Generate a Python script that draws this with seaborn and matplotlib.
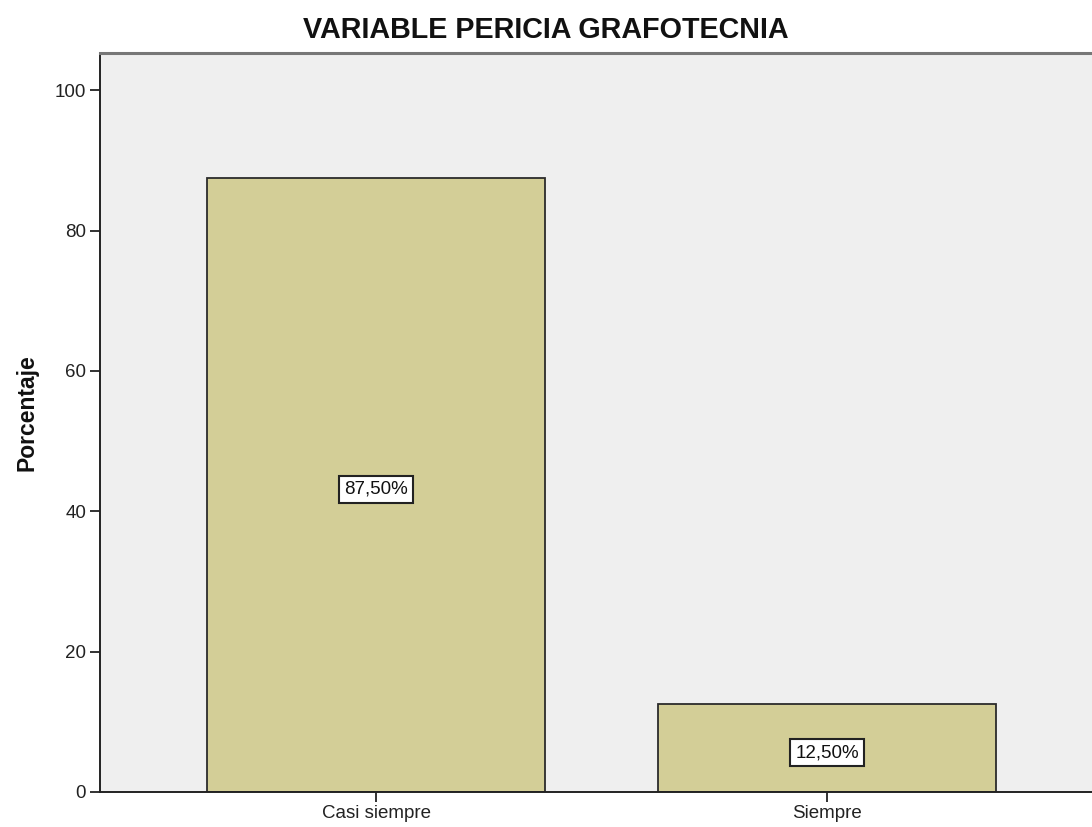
import matplotlib
matplotlib.use("Agg")
import seaborn as sns
from matplotlib import pyplot as plt

categories = ["Casi siempre", "Siempre"]
percentages = [87.5, 12.5]
value_labels = ["87,50%", "12,50%"]
y_ticks = [0, 20, 40, 60, 80, 100]

sns.set_style("white")
plt.rcParams["font.family"] = ["Liberation Sans", "DejaVu Sans"]

fig = plt.figure(figsize=(10.92, 8.27), dpi=100)
ax = fig.add_axes([100 / 1092, 35 / 827, 1003 / 1092, 739 / 827])
ax.set_facecolor("#efefef")

sns.barplot(x=categories, y=percentages, ax=ax, color="#d3ce97",
            saturation=1, width=0.75, edgecolor="#2b2b2b", linewidth=1.3)

# labels sit a little below the bar middle, like the SPSS output
ax.bar_label(ax.containers[0], labels=value_labels, label_type="center",
             padding=-3.2, fontsize=13.5, color="#111111",
             bbox=dict(boxstyle="square,pad=0.26", facecolor="white",
                       edgecolor="#222222", linewidth=1.5))

ax.set_xlim(-0.612, 1.612)
ax.set_ylim(0, 105.3)
ax.set_yticks(y_ticks)
ax.set_ylabel("Porcentaje", fontsize=16.5, fontweight="bold",
              color="#111111")
ax.yaxis.set_label_coords(-0.061, 0.514)
ax.set_xlabel("")
fig.suptitle("VARIABLE PERICIA GRAFOTECNIA", x=0.5, y=1 - 30 / 827,
             va="center", fontsize=20.7, fontweight="bold", color="#111111")

ax.tick_params(axis="both", which="major", direction="out", length=7,
               width=1.3, color="#222222", labelsize=13.5,
               labelcolor="#222222", left=True, bottom=True)
ax.tick_params(axis="y", pad=3)
ax.tick_params(axis="x", pad=2)

for side in ["left", "bottom"]:
    ax.spines[side].set_color("#222222")
    ax.spines[side].set_linewidth(1.4)
ax.spines["top"].set_color("#777777")
ax.spines["top"].set_linewidth(2.2)
ax.spines["right"].set_visible(False)

fig.savefig("out.png", dpi=100)
